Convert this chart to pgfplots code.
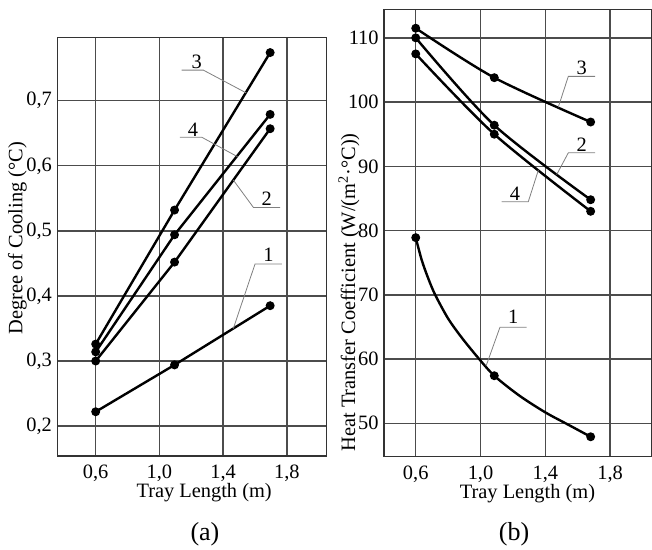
\documentclass[border=0pt]{standalone}
\usepackage{pgfplots}
\pgfplotsset{compat=1.18}
\usepackage{fontspec}
\setmainfont{Liberation Serif}

\pgfplotsset{
  trayaxis/.style={
    scale only axis, clip=false,
    axis line style={black!80,line width=0.75pt},
    grid=major,
    major grid style={black!70,line width=0.7pt},
    major tick length=0pt,
    font=\fontsize{10.2}{12}\selectfont,
    /pgf/number format/assume math mode=true,
    /pgf/number format/use comma,
    xtick={0.6,1.0,1.4,1.8},
    xticklabel style={/pgf/number format/fixed,/pgf/number format/fixed zerofill,
      /pgf/number format/precision=1,inner ysep=4.5pt},
    yticklabel style={inner xsep=2.5pt},
  },
  curve/.style={black,line width=1.2pt,mark=*,mark size=1.6pt,mark options={solid,fill=black}},
}
\tikzset{lead/.style={gray,line width=0.4pt}}

\begin{document}
\begin{tikzpicture}
\useasboundingbox (-28.65pt,-47pt) rectangle (297.35pt,228pt);

% (a) degree of cooling
\begin{axis}[trayaxis, at={(0pt,0pt)}, anchor=south west,
  width=134.7pt, height=209.35pt,
  xmin=0.359, xmax=2.05, ymin=0.154, ymax=0.7975,
  ytick={0.2,0.3,0.4,0.5,0.6,0.7},
  yticklabel style={/pgf/number format/fixed,/pgf/number format/fixed zerofill,
    /pgf/number format/precision=1},
  xlabel={Tray Length (m)}, ylabel={Degree of Cooling (°C)},
  xlabel style={at={(axis description cs:0.545,-0.0884)},anchor=center},
  ylabel style={at={(axis description cs:-0.148,0.52)},anchor=center}]
\addplot[curve] coordinates {(0.6,0.326) (1.095,0.532) (1.695,0.774)};
\addplot[curve] coordinates {(0.6,0.314) (1.095,0.494) (1.695,0.679)};
\addplot[curve] coordinates {(0.6,0.300) (1.095,0.452) (1.695,0.657)};
\addplot[curve] coordinates {(0.6,0.222) (1.095,0.294) (1.695,0.385)};
% leaders
\draw[lead] (axis cs:1.140,0.747) -- (axis cs:1.276,0.747) -- (axis cs:1.545,0.712);
\draw[lead] (axis cs:1.129,0.644) -- (axis cs:1.265,0.644) -- (axis cs:1.49,0.614);
\draw[lead] (axis cs:1.758,0.536) -- (axis cs:1.590,0.536) -- (axis cs:1.464,0.578);
\draw[lead] (axis cs:1.768,0.449) -- (axis cs:1.600,0.449) -- (axis cs:1.464,0.350);
\node at (axis cs:1.234,0.760) {3};
\node at (axis cs:1.211,0.656) {4};
\node at (axis cs:1.674,0.550) {2};
\node at (axis cs:1.684,0.463) {1};
\node[font=\fontsize{13}{15}\selectfont] at (axis description cs:0.548,-0.186) {(a)};
\end{axis}

% (b) heat transfer coefficient
\begin{axis}[trayaxis, at={(163.35pt,-0.15pt)}, anchor=south west,
  width=133.85pt, height=223.35pt,
  xmin=0.404, xmax=2.057, ymin=44.86, ymax=114.4,
  ytick={50,60,70,80,90,100,110},
  xlabel={Tray Length (m)},
  ylabel={Heat Transfer Coefficient (W/(m\textsuperscript{2}·°C))},
  xlabel style={at={(axis description cs:0.536,-0.0835)},anchor=center},
  ylabel style={at={(axis description cs:-0.131,-0.005)},anchor=west}]
\addplot[curve,smooth] coordinates {(0.6,111.5) (1.085,103.8) (1.68,96.9)};
\addplot[curve,smooth] coordinates {(0.6,110.0) (1.085,96.4) (1.68,84.8)};
\addplot[curve,smooth] coordinates {(0.6,107.5) (1.085,95.0) (1.68,83.0)};
\addplot[curve,smooth,no marks] coordinates {(0.6,78.9) (0.637,75.4) (0.678,72.5)
  (0.72,70) (0.80,66.3) (0.885,63.3) (0.985,60.2) (1.085,57.4) (1.24,54.3)
  (1.4,51.7) (1.54,49.8) (1.68,47.9)};
\addplot[curve,only marks] coordinates {(0.6,78.9) (1.085,57.4) (1.68,47.9)};
% leaders
\draw[lead] (axis cs:1.707,104.0) -- (axis cs:1.542,104.0) -- (axis cs:1.48,99.2);
\draw[lead] (axis cs:1.707,92.1) -- (axis cs:1.542,92.1) -- (axis cs:1.47,88.7);
\draw[lead] (axis cs:1.131,84.5) -- (axis cs:1.295,84.5) -- (axis cs:1.357,89.4);
\draw[lead] (axis cs:1.285,64.95) -- (axis cs:1.120,64.95) -- (axis cs:1.034,58.9);
\node at (axis cs:1.625,105.3) {3};
\node at (axis cs:1.625,93.4) {2};
\node at (axis cs:1.213,85.75) {4};
\node at (axis cs:1.2025,66.6) {1};
\node[font=\fontsize{13}{15}\selectfont] at (axis description cs:0.486,-0.175) {(b)};
\end{axis}
\end{tikzpicture}
\end{document}
